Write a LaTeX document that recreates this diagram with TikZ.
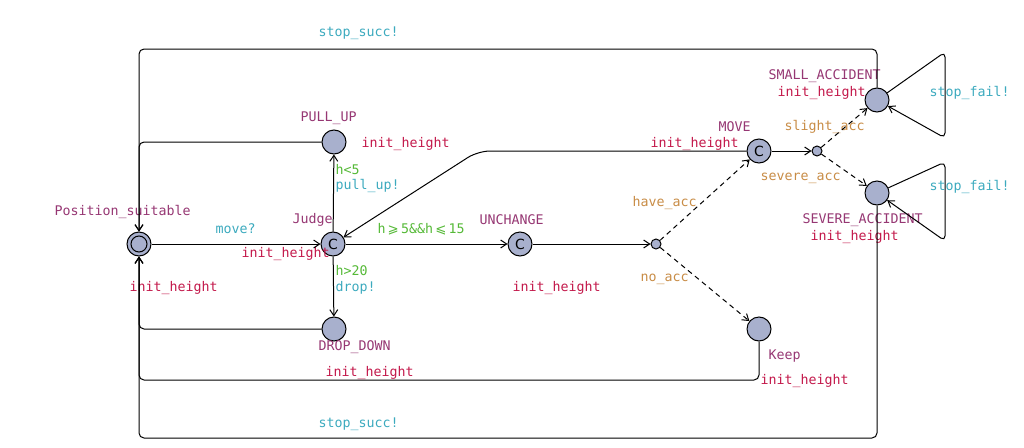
\documentclass[tikz,border=0pt]{standalone}
\usepackage{fontspec}
\setmonofont{DejaVu Sans Mono}
\newfontfamily\symfnt{DejaVu Sans}
\usepackage{xcolor}
\usepackage{tikz}
\usetikzlibrary{arrows.meta,positioning}
\definecolor{locfill}{RGB}{168,176,205}
\definecolor{namecol}{RGB}{150,55,115}
\definecolor{updcol}{RGB}{195,25,75}
\definecolor{synccol}{RGB}{60,170,190}
\definecolor{guardcol}{RGB}{85,185,55}
\definecolor{probcol}{RGB}{200,140,70}
\newcommand{\geqsl}{{\symfnt ⩾}}
\newcommand{\leqsl}{{\symfnt ⩽}}

\begin{document}
\begin{tikzpicture}[x=1pt, y=-1pt, line width=1pt,
  loc/.style={draw, circle, fill=locfill, minimum size=24pt, inner sep=0pt},
  comm/.style={loc, font=\symfnt\fontsize{14}{14}\selectfont},
  initloc/.style={loc, path picture={\draw (path picture bounding box.center) circle (8pt);}},
  brp/.style={draw, circle, fill=locfill, minimum size=10pt, inner sep=0pt},
  lbl/.style={anchor=west, inner sep=0pt, font=\ttfamily\fontsize{13.3}{15}\selectfont},
  locname/.style={lbl, text=namecol},
  upd/.style={lbl, text=updcol},
  sync/.style={lbl, text=synccol},
  guard/.style={lbl, text=guardcol},
  prob/.style={lbl, text=probcol},
  arr/.style={-{Straight Barb[length=6pt, width=8pt]}},
  darr/.style={arr, dash pattern=on 5pt off 4pt}]
  \useasboundingbox (0,0) rectangle (1024,447);
  \node[initloc] (ps) at (139,244) {};
  \node[comm] (judge) at (333,244) {C};
  \node[loc] (pullup) at (334,142) {};
  \node[loc] (drop) at (334,329) {};
  \node[comm] (unch) at (520,244) {C};
  \node[brp] (br1) at (656,244) {};
  \node[comm] (move) at (759,151) {C};
  \node[brp] (br2) at (817,151) {};
  \node[loc] (small) at (877,100) {};
  \node[loc] (severe) at (877,193) {};
  \node[loc] (keep) at (759,329) {};
  \coordinate (ctop) at (139,49); \coordinate (cbot) at (139,438); \coordinate (ckeep) at (139,380);
  \coordinate (cmv) at (478,151);
  \coordinate (s1) at (945,52); \coordinate (s2) at (945,138);
  \coordinate (v1) at (945,162); \coordinate (v2) at (945,241);

  \node[locname] (lps) at (54,212) {Position\_suitable};
  \node[locname] (ljudge) at (292,220) {Judge};
  \node[locname] (lpull) at (300,118) {PULL\_UP};
  \node[locname] (ldrop) at (318,347) {DROP\_DOWN};
  \node[locname] (lunch) at (479,220) {UNCHANGE};
  \node[locname] (lmove) at (718,127) {MOVE};
  \node[locname] (lsmall) at (768,76) {SMALL\_ACCIDENT};
  \node[locname] (lsevere) at (802,220) {SEVERE\_ACCIDENT};
  \node[locname] (lkeep) at (768,356) {Keep};

  \node[upd] (u1) at (241,254) {init\_height};
  \node[upd] (u2) at (361,144) {init\_height};
  \node[upd] (u3) at (512,288) {init\_height};
  \node[upd] (u4) at (650,144) {init\_height};
  \node[upd] (u5) at (777,93) {init\_height};
  \node[upd] (u6) at (810,237) {init\_height};
  \node[upd] (u7) at (325,373) {init\_height};
  \node[upd] (u8) at (760,381) {init\_height};
  \node[upd] (u9) at (129,288) {init\_height};

  \node[sync] (smove) at (215,229) {move?};
  \node[sync] (spull) at (335,186) {pull\_up!};
  \node[sync] (sdrop) at (335,288) {drop!};
  \node[sync] (stop1) at (318,33) {stop\_succ!};
  \node[sync] (stop2) at (318,424) {stop\_succ!};
  \node[sync] (fail1) at (929,93) {stop\_fail!};
  \node[sync] (fail2) at (929,187) {stop\_fail!};

  \node[guard] (glt) at (335,170) {h<5};
  \node[guard] (ggt) at (335,271) {h>20};
  \node[guard] (gmid) at (377,229) {h\,\geqsl\,5\&\&h\,\leqsl\,15};

  \node[prob] (phave) at (632,203) {have\_acc};
  \node[prob] (pno) at (640,279) {no\_acc};
  \node[prob] (pslight) at (784,127) {slight\_acc};
  \node[prob] (psevere) at (760,178) {severe\_acc};

  \draw[arr] (ps) -- (judge); \draw[arr] (judge) -- (pullup); \draw[arr] (judge) -- (drop);
  \draw[arr] (judge) -- (unch); \draw[arr] (unch) -- (br1); \draw[arr] (move) -- (br2);
  \draw[darr] (br1) -- (move); \draw[darr] (br1) -- (keep);
  \draw[darr] (br2) -- (small); \draw[darr] (br2) -- (severe);
  \draw[arr, rounded corners=12pt] (move) -- (cmv) -- (judge);
  \draw[arr, rounded corners=5pt] (small) -- (s1) -- (s2) -- (small);
  \draw[arr, rounded corners=5pt] (severe) -- (v1) -- (v2) -- (severe);
  \draw[arr, rounded corners=5pt] (pullup) -| (ps); \draw[arr, rounded corners=5pt] (drop) -| (ps);
  \draw[arr, rounded corners=5pt] (small) |- (ctop) -- (ps);
  \draw[arr, rounded corners=5pt] (severe) |- (cbot) -- (ps);
  \draw[arr, rounded corners=5pt] (keep) |- (ckeep) -- (ps);
\end{tikzpicture}
\end{document}
